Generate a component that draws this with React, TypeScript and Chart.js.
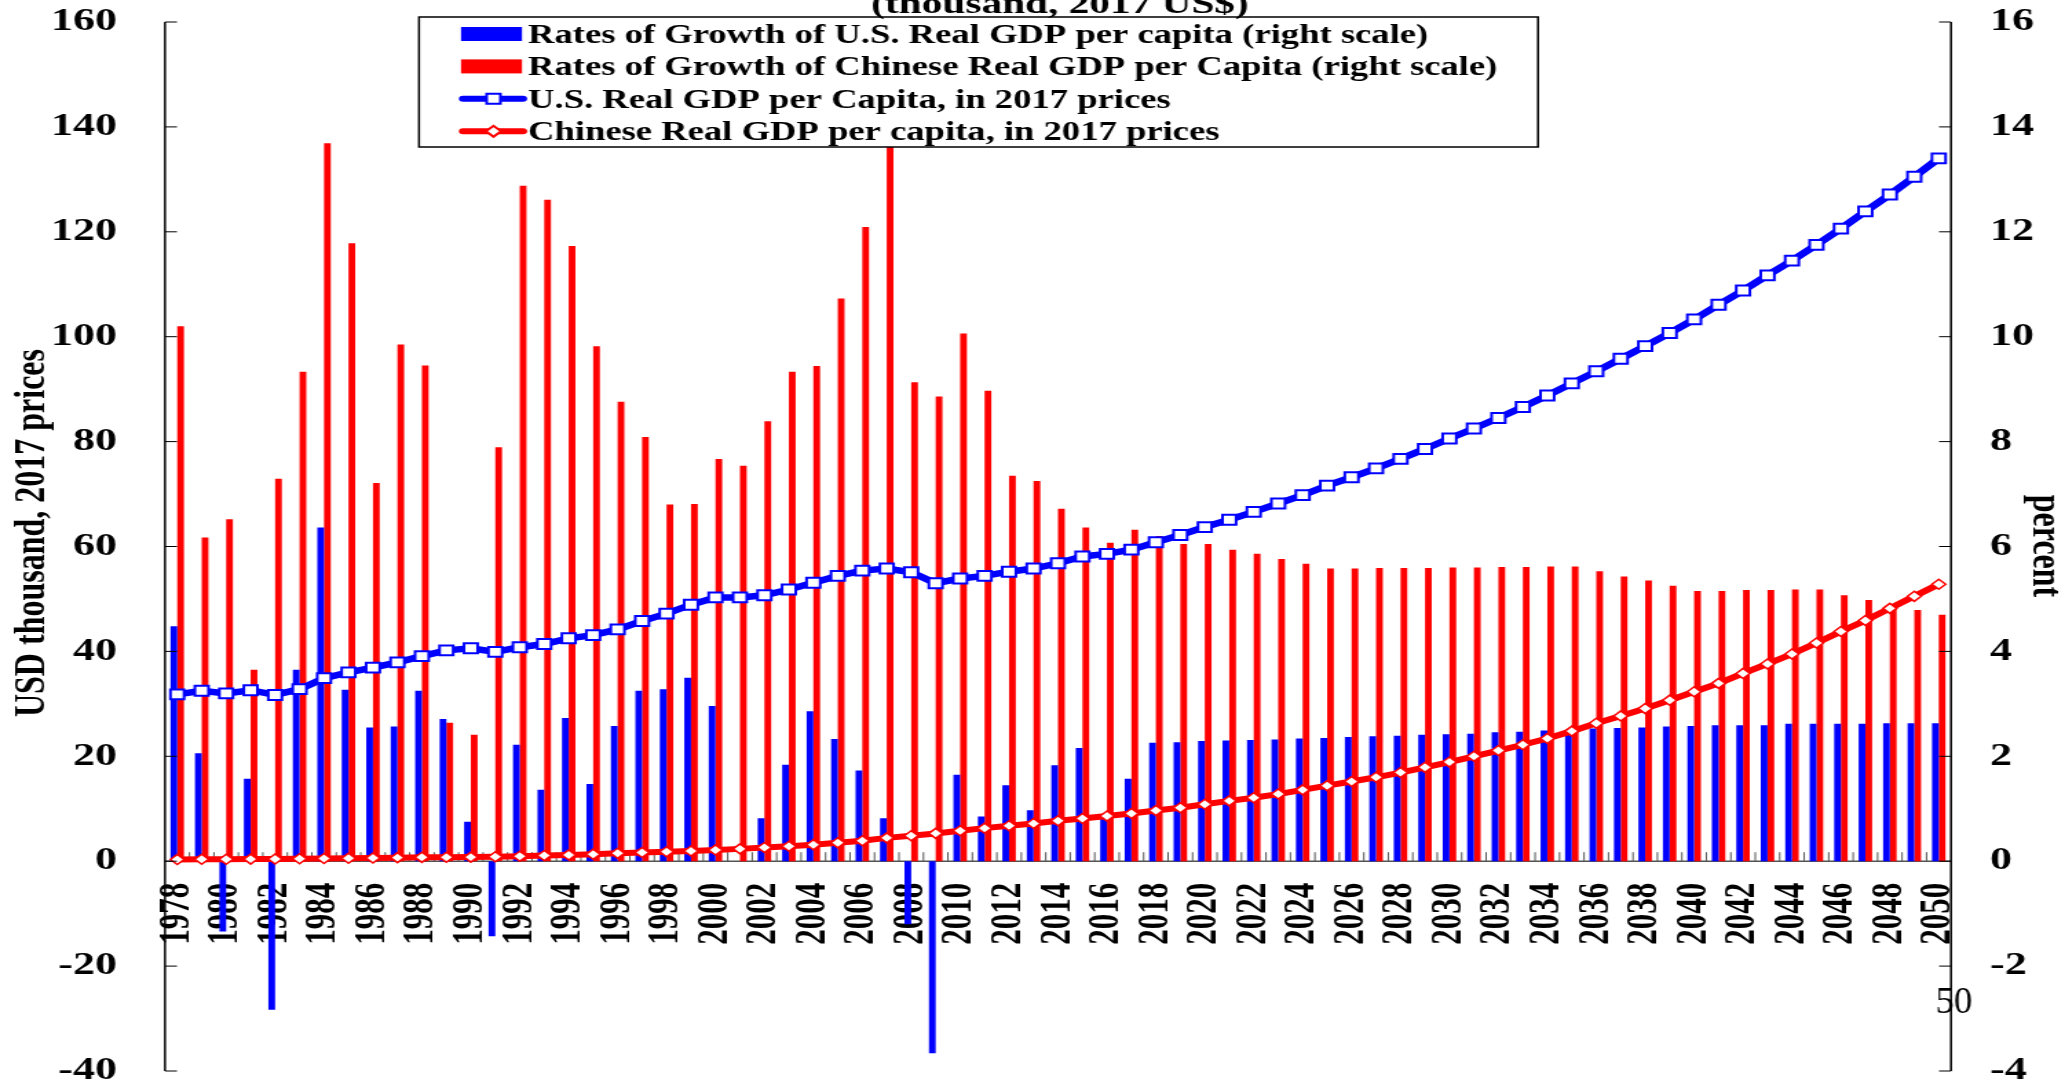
import React, { useEffect, useRef } from "react";
import { Chart, registerables } from "chart.js";

Chart.register(...registerables);

// ---------------- DATA ----------------
const years = [
  "1978", "1979", "1980", "1981", "1982", "1983", "1984", "1985", "1986", "1987",
  "1988", "1989", "1990", "1991", "1992", "1993", "1994", "1995", "1996", "1997",
  "1998", "1999", "2000", "2001", "2002", "2003", "2004", "2005", "2006", "2007",
  "2008", "2009", "2010", "2011", "2012", "2013", "2014", "2015", "2016", "2017",
  "2018", "2019", "2020", "2021", "2022", "2023", "2024", "2025", "2026", "2027",
  "2028", "2029", "2030", "2031", "2032", "2033", "2034", "2035", "2036", "2037",
  "2038", "2039", "2040", "2041", "2042", "2043", "2044", "2045", "2046", "2047",
  "2048", "2049", "2050",
];

// percent, right scale
const usGrowth = [
  4.48, 2.06, -1.34, 1.57, -2.83, 3.65, 6.36, 3.27, 2.55, 2.57,
  3.25, 2.71, 0.75, -1.43, 2.22, 1.36, 2.73, 1.47, 2.58, 3.25,
  3.28, 3.5, 2.96, 0.0, 0.82, 1.84, 2.86, 2.33, 1.73, 0.82,
  -1.2, -3.66, 1.65, 0.85, 1.45, 0.97, 1.83, 2.16, 0.85, 1.57,
  2.26, 2.27, 2.29, 2.3, 2.31, 2.32, 2.34, 2.35, 2.37, 2.38,
  2.39, 2.41, 2.42, 2.43, 2.46, 2.47, 2.49, 2.5, 2.53, 2.54,
  2.55, 2.57, 2.58, 2.59, 2.59, 2.59, 2.62, 2.62, 2.62, 2.62,
  2.63, 2.63, 2.63,
];

// percent, right scale
const chinaGrowth = [
  10.2, 6.17, 6.52, 3.65, 7.29, 9.33, 13.69, 11.78, 7.21, 9.85,
  9.45, 2.64, 2.41, 7.89, 12.88, 12.61, 11.73, 9.82, 8.76, 8.09,
  6.8, 6.81, 7.67, 7.54, 8.39, 9.33, 9.44, 10.73, 12.09, 13.9,
  9.13, 8.86, 10.06, 8.97, 7.35, 7.25, 6.72, 6.36, 6.07, 6.32,
  6.2, 6.05, 6.05, 5.94, 5.86, 5.76, 5.67, 5.58, 5.58, 5.59,
  5.59, 5.59, 5.6, 5.6, 5.61, 5.61, 5.62, 5.62, 5.53, 5.43,
  5.35, 5.25, 5.15, 5.15, 5.17, 5.17, 5.18, 5.18, 5.07, 4.98,
  4.89, 4.79, 4.7,
];

// USD thousand, 2017 prices, left scale
const usGdp = [
  31.8, 32.5, 32.0, 32.6, 31.7, 32.8, 34.9, 36.0, 36.9, 37.9,
  39.1, 40.2, 40.6, 39.9, 40.8, 41.4, 42.5, 43.1, 44.2, 45.8,
  47.2, 48.9, 50.3, 50.3, 50.7, 51.8, 53.1, 54.4, 55.4, 55.8,
  55.1, 53.0, 53.9, 54.4, 55.2, 55.8, 56.8, 58.1, 58.6, 59.4,
  60.8, 62.2, 63.7, 65.1, 66.6, 68.2, 69.8, 71.6, 73.2, 74.9,
  76.7, 78.6, 80.6, 82.5, 84.5, 86.6, 88.8, 91.1, 93.4, 95.8,
  98.2, 100.7, 103.3, 106.1, 108.8, 111.7, 114.5, 117.5, 120.6, 123.9,
  127.1, 130.5, 134.0,
];

// USD thousand, 2017 prices, left scale
const chinaGdp = [
  0.34, 0.36, 0.38, 0.4, 0.42, 0.46, 0.52, 0.58, 0.62, 0.68,
  0.74, 0.76, 0.78, 0.84, 0.95, 1.07, 1.2, 1.34, 1.5, 1.65,
  1.8, 1.95, 2.15, 2.35, 2.6, 2.85, 3.15, 3.5, 3.9, 4.45,
  4.85, 5.3, 5.8, 6.3, 6.75, 7.2, 7.7, 8.15, 8.6, 9.1,
  9.65, 10.2, 10.85, 11.5, 12.1, 12.8, 13.6, 14.4, 15.2, 16.0,
  16.9, 17.9, 18.9, 20.0, 21.1, 22.2, 23.4, 24.8, 26.3, 27.7,
  29.1, 30.7, 32.3, 33.9, 35.8, 37.6, 39.5, 41.6, 43.8, 45.9,
  48.2, 50.5, 52.8,
];

const leftAxisRange = [-40, 160];
const leftAxisStep = 20;
const rightAxisRange = [-4, 16];
const rightAxisStep = 2;

const seriesLabels = [
  "Rates of Growth of U.S. Real GDP per capita (right scale)",
  "Rates of Growth of Chinese Real GDP per Capita (right scale)",
  "U.S. Real GDP per Capita, in 2017 prices",
  "Chinese Real GDP per capita, in 2017 prices",
];
const titleText = "(thousand, 2017 US$)";
const leftAxisTitle = "USD thousand, 2017 prices";
const rightAxisTitle = "percent";
const cornerText = "50";

// ---------------- LAYOUT / STYLE ----------------
const DISPLAY_W = 2065;
const H = 1084;
const W = 1500; // logical canvas width, stretched horizontally to DISPLAY_W
const S = DISPLAY_W / W;
const lx = (d: number) => d / S;

const SERIF = '"Liberation Serif", "Times New Roman", Times, serif';
const BLUE = "#0000ff";
const RED = "#ff0000";

const decorPlugin = {
  id: "decor",
  beforeDatasetsDraw(chart: any) {
    const { ctx, chartArea: ca, scales } = chart;
    const x = scales.x;
    const y = scales.y;
    const y0 = y.getPixelForValue(0);
    ctx.save();
    ctx.strokeStyle = "#555";
    ctx.lineWidth = 1.5;
    ctx.beginPath();
    ctx.moveTo(ca.left, y0);
    ctx.lineTo(ca.right, y0);
    ctx.stroke();
    const step = x.getPixelForValue(1) - x.getPixelForValue(0);
    ctx.lineWidth = 1;
    ctx.beginPath();
    for (let i = 1; i < years.length; i++) {
      const px = x.getPixelForValue(0) + (i - 0.5) * step;
      ctx.moveTo(px, y0);
      ctx.lineTo(px, y0 - 9);
    }
    ctx.stroke();
    ctx.restore();
  },
  afterDatasetsDraw(chart: any) {
    const { ctx, chartArea: ca, scales } = chart;
    const y = scales.y;
    const y1 = scales.y1;
    ctx.save();
    // axis lines
    ctx.strokeStyle = "#000";
    ctx.lineWidth = 1.5;
    const top = y.getPixelForValue(leftAxisRange[1]);
    const bot = y.getPixelForValue(leftAxisRange[0]);
    ctx.beginPath();
    ctx.moveTo(ca.left, top);
    ctx.lineTo(ca.left, bot);
    ctx.moveTo(ca.right, top);
    ctx.lineTo(ca.right, bot);
    ctx.stroke();
    ctx.lineWidth = 1;
    ctx.beginPath();
    y.ticks.forEach((t: any) => {
      const py = y.getPixelForValue(t.value);
      ctx.moveTo(ca.left, py);
      ctx.lineTo(ca.left + lx(12), py);
    });
    y1.ticks.forEach((t: any) => {
      const py = y1.getPixelForValue(t.value);
      ctx.moveTo(ca.right, py);
      ctx.lineTo(ca.right - lx(12), py);
    });
    ctx.stroke();

    // legend
    const bx0 = lx(419), bx1 = lx(1538), by0 = 17, by1 = 147;
    ctx.fillStyle = "#fff";
    ctx.fillRect(bx0, by0, bx1 - bx0, by1 - by0);
    ctx.strokeStyle = "#000";
    ctx.lineWidth = 1.5;
    ctx.strokeRect(bx0, by0, bx1 - bx0, by1 - by0);
    const baselines = [42.7, 75.1, 107.5, 140];
    ctx.font = `bold 26.6px ${SERIF}`;
    ctx.textAlign = "left";
    ctx.textBaseline = "alphabetic";
    seriesLabels.forEach((lab, i) => {
      const cy = baselines[i] - 8.7;
      if (i < 2) {
        ctx.fillStyle = i === 0 ? BLUE : RED;
        ctx.fillRect(lx(461), cy - 7, lx(522) - lx(461), 14);
      } else {
        const col = i === 2 ? BLUE : RED;
        ctx.strokeStyle = col;
        ctx.lineWidth = 6;
        ctx.lineCap = "round";
        ctx.beginPath();
        ctx.moveTo(lx(463), cy);
        ctx.lineTo(lx(523), cy);
        ctx.stroke();
        const mx = (lx(461) + lx(526)) / 2;
        ctx.fillStyle = "#fff";
        ctx.lineWidth = 2;
        ctx.beginPath();
        if (i === 2) {
          ctx.rect(mx - 5, cy - 5, 10, 10);
        } else {
          ctx.moveTo(mx - 5.5, cy);
          ctx.lineTo(mx, cy - 5.5);
          ctx.lineTo(mx + 5.5, cy);
          ctx.lineTo(mx, cy + 5.5);
          ctx.closePath();
        }
        ctx.fill();
        ctx.stroke();
      }
      ctx.fillStyle = "#000";
      ctx.fillText(lab, lx(528), baselines[i]);
    });

    // title (top part cut off)
    ctx.font = `bold 30px ${SERIF}`;
    ctx.textAlign = "center";
    ctx.textBaseline = "alphabetic";
    ctx.fillStyle = "#000";
    ctx.fillText(titleText, lx(1060), 13);

    // axis titles
    ctx.font = `bold 32px ${SERIF}`;
    ctx.textBaseline = "middle";
    ctx.save();
    ctx.translate(lx(33), 533);
    ctx.rotate(-Math.PI / 2);
    ctx.fillText(leftAxisTitle, 0, 0);
    ctx.restore();
    ctx.save();
    ctx.translate(lx(2045), 546);
    ctx.rotate(Math.PI / 2);
    ctx.fillText(rightAxisTitle, 0, 0);
    ctx.restore();

    // stray page number
    ctx.save();
    ctx.translate(lx(1954), 1013);
    ctx.scale(1 / S, 1);
    ctx.font = `37px ${SERIF}`;
    ctx.textBaseline = "alphabetic";
    ctx.fillText(cornerText, 0, 0);
    ctx.restore();

    ctx.restore();
  },
};

const zeroPad = (s: any) => {
  s.paddingLeft = 0;
  s.paddingRight = 0;
  s.paddingTop = 0;
  s.paddingBottom = 0;
};

export default function App() {
  const ref = useRef<HTMLCanvasElement>(null);
  useEffect(() => {
    const canvas = ref.current;
    if (!canvas) return;
    const chart = new Chart(canvas, {
      type: "bar",
      data: {
        labels: years,
        datasets: [
          {
            type: "line",
            label: seriesLabels[2],
            data: usGdp,
            yAxisID: "y",
            borderColor: BLUE,
            borderWidth: 6.5,
            pointStyle: "rect",
            pointRadius: 7,
            pointBorderWidth: 2,
            pointBackgroundColor: "#fff",
            pointBorderColor: BLUE,
            tension: 0,
            order: 1,
          } as any,
          {
            type: "line",
            label: seriesLabels[3],
            data: chinaGdp,
            yAxisID: "y",
            borderColor: RED,
            borderWidth: 6,
            pointStyle: "rectRot",
            pointRadius: 5,
            pointBorderWidth: 1.5,
            pointBackgroundColor: "#fff",
            pointBorderColor: RED,
            tension: 0,
            order: 0,
          } as any,
          {
            type: "bar",
            label: seriesLabels[0],
            data: usGrowth,
            yAxisID: "y1",
            backgroundColor: BLUE,
            categoryPercentage: 0.55,
            barPercentage: 1,
            order: 2,
          } as any,
          {
            type: "bar",
            label: seriesLabels[1],
            data: chinaGrowth,
            yAxisID: "y1",
            backgroundColor: RED,
            categoryPercentage: 0.55,
            barPercentage: 1,
            order: 2,
          } as any,
        ],
      },
      options: {
        responsive: false,
        animation: false,
        devicePixelRatio: 1,
        events: [],
        layout: { padding: { left: 0, right: 0, top: 22, bottom: 13 } },
        plugins: {
          legend: { display: false },
          tooltip: { enabled: false },
          title: { display: false },
        },
        scales: {
          x: {
            type: "category",
            position: { y: 0 } as any,
            offset: true,
            grid: { display: false, drawTicks: false },
            border: { display: false },
            ticks: {
              autoSkip: false,
              maxRotation: 90,
              minRotation: 90,
              padding: 21.5,
              color: "#000",
              font: { family: SERIF, size: 31, weight: "bold" },
              callback: (_v: any, i: number) => (i % 2 === 0 ? years[i] : ""),
            },
            afterFit: zeroPad,
          },
          y: {
            position: "left",
            min: leftAxisRange[0],
            max: leftAxisRange[1],
            grid: { display: false, drawTicks: false },
            border: { display: false },
            ticks: {
              stepSize: leftAxisStep,
              padding: lx(165) - lx(117),
              color: "#000",
              font: { family: SERIF, size: 32, weight: "bold" },
            },
            afterFit: (s: any) => {
              s.width = lx(165);
              zeroPad(s);
            },
          },
          y1: {
            position: "right",
            min: rightAxisRange[0],
            max: rightAxisRange[1],
            grid: { display: false, drawTicks: false },
            border: { display: false },
            ticks: {
              stepSize: rightAxisStep,
              padding: lx(1990) - lx(1951),
              color: "#000",
              font: { family: SERIF, size: 32, weight: "bold" },
            },
            afterFit: (s: any) => {
              s.width = W - lx(1951);
              zeroPad(s);
            },
          },
        } as any,
      },
      plugins: [decorPlugin],
    } as any);
    return () => chart.destroy();
  }, []);

  return (
    <div
      style={{
        position: "fixed",
        left: 0,
        top: 0,
        width: DISPLAY_W,
        height: H,
        background: "#fff",
        overflow: "hidden",
      }}
    >
      <canvas
        ref={ref}
        width={W}
        height={H}
        style={{ width: DISPLAY_W + "px", height: H + "px", display: "block" }}
      />
    </div>
  );
}
